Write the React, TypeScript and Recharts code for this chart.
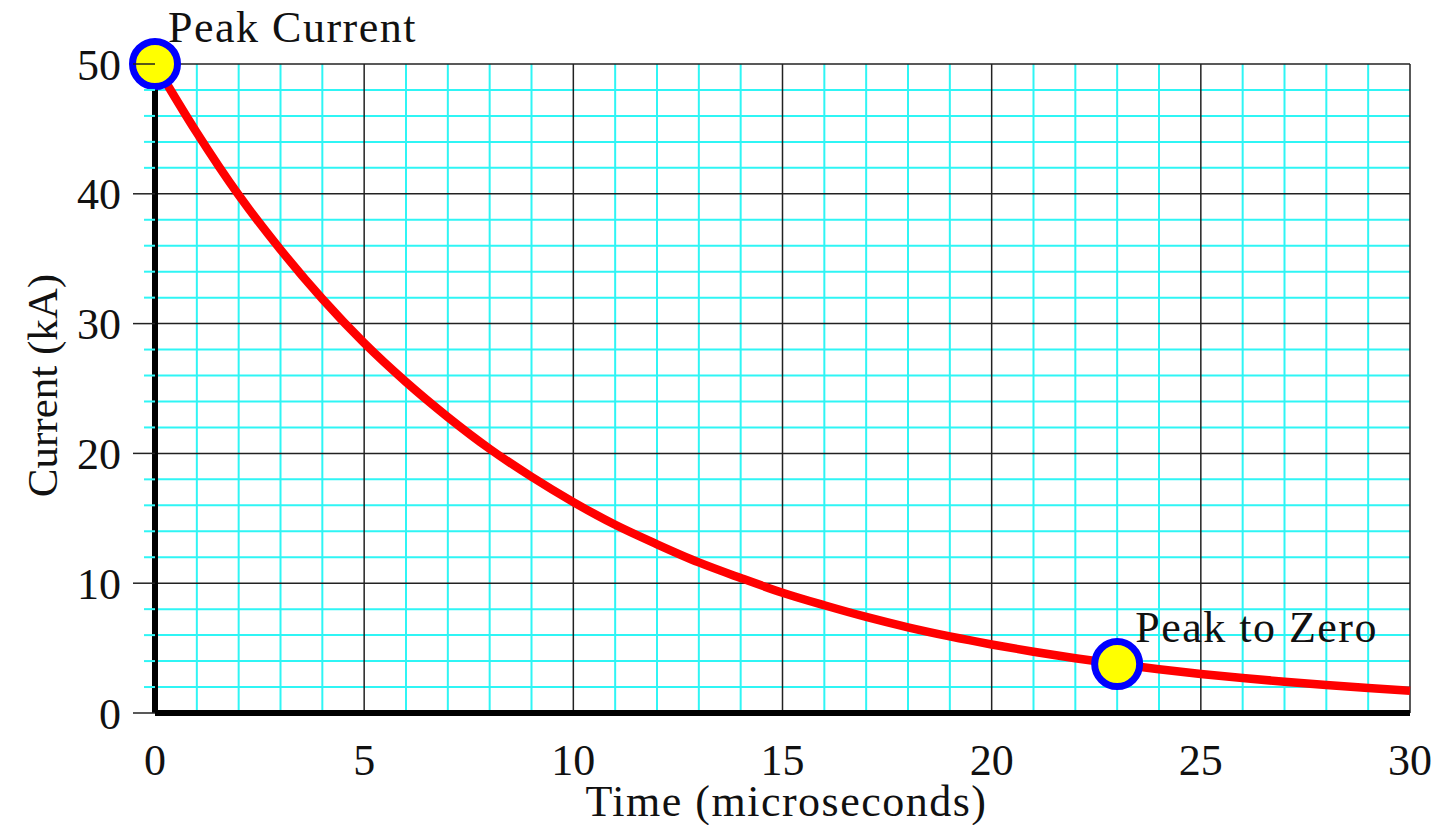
import React from 'react';
import { LineChart, Line, XAxis, YAxis, CartesianGrid, ReferenceDot, Label } from 'recharts';

// Discharge current sampled every microsecond
const timeUs = [0, 1, 2, 3, 4, 5, 6, 7, 8, 9, 10, 11, 12, 13, 14, 15, 16, 17, 18, 19, 20, 21, 22, 23, 24, 25, 26, 27, 28, 29, 30];
const currentKA = [
  50, 44.7, 39.9, 35.7, 31.9, 28.5, 25.5, 22.8, 20.35, 18.2, 16.25,
  14.5, 13.0, 11.6, 10.4, 9.27, 8.3, 7.4, 6.6, 5.9, 5.28,
  4.72, 4.22, 3.77, 3.37, 3.01, 2.69, 2.41, 2.15, 1.92, 1.72,
];

const majorX = [0, 5, 10, 15, 20, 25, 30];
const minorX = [1, 2, 3, 4, 6, 7, 8, 9, 11, 12, 13, 14, 16, 17, 18, 19, 21, 22, 23, 24, 26, 27, 28, 29];
const majorY = [0, 10, 20, 30, 40, 50];
const minorY = [2, 4, 6, 8, 12, 14, 16, 18, 22, 24, 26, 28, 32, 34, 36, 38, 42, 44, 46, 48];
const allY = [...majorY, ...minorY].sort((a, b) => a - b);

const peakIndex = 0;
const zeroIndex = 23;

const data = timeUs.map((t, i) => ({ t, current: currentKA[i] }));

const FONT = '"Liberation Serif", "Times New Roman", serif';
const CYAN = '#2ff5f5';

const YTick = (props: any) => {
  const { x, y, payload } = props;
  const major = payload.value % 10 === 0;
  return (
    <g>
      <line
        x1={x - (major ? 22 : 11)}
        x2={x}
        y1={y}
        y2={y}
        stroke={major ? '#222' : CYAN}
        strokeWidth={major ? 1.5 : 2}
      />
      {major && (
        <text x={x - 34} y={y} dy="0.355em" textAnchor="end" fontFamily={FONT} fontSize={44} fill="#111">
          {payload.value}
        </text>
      )}
    </g>
  );
};

const markerShape = (text: string, dx: number) => (props: any) => {
  const { cx, cy } = props;
  return (
    <g>
      <circle cx={cx} cy={cy} r={22.5} fill="#ffff00" stroke="#0000ff" strokeWidth={7} />
      <text x={cx + dx} y={cy - 22} fontFamily={FONT} fontSize={44} letterSpacing={1.5} fill="#111">
        {text}
      </text>
    </g>
  );
};

export default function App() {
  return (
    <div style={{ position: 'absolute', left: 0, top: 0, background: '#fff' }}>
      <LineChart width={1445} height={825} data={data} margin={{ top: 64, right: 35, bottom: 0, left: 0 }}>
        <CartesianGrid stroke={CYAN} strokeWidth={2} horizontalValues={minorY} verticalValues={minorX} />
        <CartesianGrid stroke="#222" strokeWidth={1.5} horizontalValues={majorY} verticalValues={majorX} />
        <XAxis
          dataKey="t"
          type="number"
          domain={[0, 30]}
          ticks={majorX}
          interval={0}
          height={112}
          tickLine={false}
          tickSize={0}
          tickMargin={31}
          axisLine={{ stroke: '#000', strokeWidth: 6 }}
          tick={{ fontFamily: FONT, fontSize: 44, fill: '#111' }}
        >
          <Label
            content={({ viewBox }: any) => (
              <text
                x={viewBox.x + viewBox.width / 2 + 4}
                y={viewBox.y + 103}
                textAnchor="middle"
                fontFamily={FONT}
                fontSize={44}
                letterSpacing={1.5}
                fill="#111"
              >
                Time (microseconds)
              </text>
            )}
          />
        </XAxis>
        <YAxis
          type="number"
          domain={[0, 50]}
          ticks={allY}
          interval={0}
          width={155}
          tickLine={false}
          tickSize={0}
          tickMargin={0}
          axisLine={{ stroke: '#000', strokeWidth: 6 }}
          tick={<YTick />}
        >
          <Label
            content={({ viewBox }: any) => {
              const cx = 42;
              const cy = viewBox.y + viewBox.height / 2 - 3;
              return (
                <text
                  x={cx}
                  y={cy}
                  transform={`rotate(-90, ${cx}, ${cy})`}
                  textAnchor="middle"
                  dominantBaseline="central"
                  fontFamily={FONT}
                  fontSize={43}
                  fill="#111"
                >
                  Current (kA)
                </text>
              );
            }}
          />
        </YAxis>
        <Line
          type="monotone"
          dataKey="current"
          stroke="#ff0000"
          strokeWidth={8.5}
          dot={false}
          activeDot={false}
          isAnimationActive={false}
        />
        <ReferenceDot
          x={timeUs[peakIndex]}
          y={currentKA[peakIndex]}
          ifOverflow="visible"
          shape={markerShape('Peak Current', 13)}
        />
        <ReferenceDot
          x={timeUs[zeroIndex]}
          y={currentKA[zeroIndex]}
          ifOverflow="visible"
          shape={markerShape('Peak to Zero', 18)}
        />
      </LineChart>
    </div>
  );
}
